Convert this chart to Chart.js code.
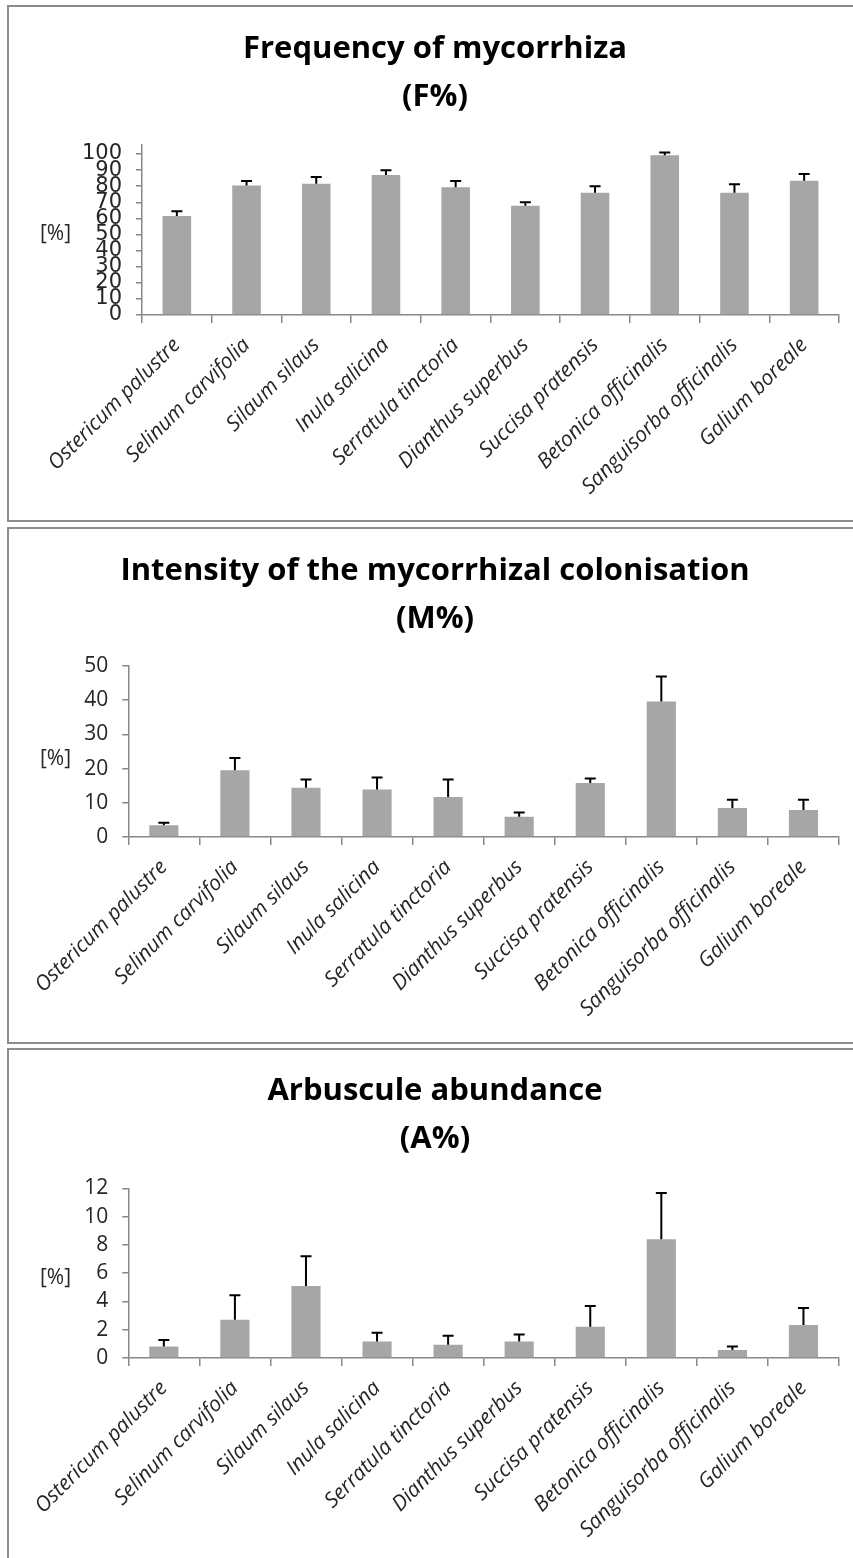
<!DOCTYPE html>
<html>
<head>
<meta charset="utf-8">
<script src="https://cdn.jsdelivr.net/npm/chart.js@4.4.0/dist/chart.umd.min.js"></script>
<style>
  html, body { margin: 0; padding: 0; background: #fff; overflow: hidden; }
  body { width: 853px; height: 1558px; position: relative; }
  .panel { position: absolute; left: 7px; width: 850px; height: 513px; border: 2px solid #8c8c8c; background: #fff; }
  .panel canvas { display: block; }
</style>
</head>
<body>
<div class="panel" style="top:5px"><canvas id="freqChart" width="850" height="513"></canvas></div>
<div class="panel" style="top:527px"><canvas id="intensityChart" width="850" height="513"></canvas></div>
<div class="panel" style="top:1048px"><canvas id="arbChart" width="850" height="513"></canvas></div>
<script>
// Plant species on the x axis (same order in all three panels)
const species = [
    'Ostericum palustre', 'Selinum carvifolia', 'Silaum silaus', 'Inula salicina',
    'Serratula tinctoria', 'Dianthus superbus', 'Succisa pratensis',
    'Betonica officinalis', 'Sanguisorba officinalis', 'Galium boreale'
];

// Frequency of mycorrhiza (F%) - means and upper error
const freqMean = [61.5, 80.5, 81.6, 87.0, 79.3, 67.9, 76.0, 99.2, 76.0, 83.4];
const freqErr  = [2.9, 2.7, 4.1, 2.9, 3.9, 2.1, 4.0, 1.8, 5.2, 4.2];

// Intensity of the mycorrhizal colonisation (M%)
const intensityMean = [3.4, 19.5, 14.4, 13.9, 11.7, 5.9, 15.8, 39.6, 8.5, 7.9];
const intensityErr  = [0.8, 3.6, 2.4, 3.5, 5.1, 1.3, 1.3, 7.3, 2.4, 3.0];

// Arbuscule abundance (A%)
const arbMean = [0.82, 2.7, 5.1, 1.17, 0.94, 1.16, 2.21, 8.39, 0.57, 2.33];
const arbErr  = [0.45, 1.74, 2.1, 0.62, 0.63, 0.51, 1.47, 3.28, 0.24, 1.21];

const axisColor = '#888888';
const textColor = '#262626';

// Draws the upper error bar (line + cap) above every bar
const errorBars = {
    id: 'errorBars',
    afterDatasetsDraw(chart, args, opts) {
        const ctx = chart.ctx;
        const yScale = chart.scales.y;
        const values = chart.data.datasets[0].data;
        ctx.save();
        ctx.strokeStyle = '#000';
        ctx.lineWidth = 2;
        chart.getDatasetMeta(0).data.forEach((bar, i) => {
            const top = yScale.getPixelForValue(values[i] + opts.errors[i]);
            ctx.beginPath();
            ctx.moveTo(bar.x, bar.y);
            ctx.lineTo(bar.x, top);
            ctx.moveTo(bar.x - 5.5, top);
            ctx.lineTo(bar.x + 5.5, top);
            ctx.stroke();
        });
        ctx.restore();
    }
};

// Horizontal "[%]" unit label left of the y axis
const unitLabel = {
    id: 'unitLabel',
    afterDraw(chart, args, opts) {
        const ctx = chart.ctx;
        const area = chart.chartArea;
        ctx.save();
        ctx.font = '21px "Open Sans"';
        ctx.fillStyle = textColor;
        ctx.textAlign = 'left';
        ctx.textBaseline = 'middle';
        ctx.fillText(opts.text, opts.x, (area.top + area.bottom) / 2 + opts.dy);
        ctx.restore();
    }
};

function buildChart(canvasId, titleLines, means, errs, yMax, yStep, yWidth, tickFont, unitDy, titlePad) {
    return new Chart(document.getElementById(canvasId), {
        type: 'bar',
        data: {
            labels: species,
            datasets: [{
                data: means,
                backgroundColor: '#a6a6a6',
                borderWidth: 0,
                categoryPercentage: 1,
                barPercentage: 0.41
            }]
        },
        options: {
            responsive: false,
            animation: false,
            devicePixelRatio: 1,
            layout: { padding: { left: 22, right: 20, top: 0, bottom: 0 } },
            plugins: {
                legend: { display: false },
                tooltip: { enabled: false },
                title: {
                    display: true,
                    text: titleLines,
                    color: '#000',
                    font: { family: 'Open Sans', size: 31, weight: 'bold', lineHeight: 48 / 31 },
                    padding: titlePad
                },
                errorBars: { errors: errs },
                unitLabel: { text: '[%]', x: 31, dy: unitDy }
            },
            scales: {
                x: {
                    grid: { drawOnChartArea: false, offset: true, color: axisColor, lineWidth: 1.5, tickLength: 8 },
                    border: { color: axisColor, width: 1.5 },
                    ticks: {
                        autoSkip: false, minRotation: 45, maxRotation: 45, padding: 10,
                        color: textColor,
                        font: { family: 'Open Sans', size: 21, style: 'italic' }
                    },
                    afterFit(scale) { scale.height = 205; }
                },
                y: {
                    min: 0,
                    max: yMax,
                    grid: { drawOnChartArea: false, color: axisColor, lineWidth: 1.5, tickLength: 6 },
                    border: { color: axisColor, width: 1.5 },
                    ticks: {
                        stepSize: yStep, autoSkip: false, includeBounds: false, padding: 14,
                        color: textColor, font: tickFont
                    },
                    afterFit(scale) { scale.width = yWidth; }
                }
            }
        },
        plugins: [errorBars, unitLabel]
    });
}

Promise.all([
    document.fonts.load('bold 31px "Open Sans"'),
    document.fonts.load('italic 21px "Open Sans"'),
    document.fonts.load('21px "Open Sans"'),
    document.fonts.load('21px "DejaVu Sans"')
]).catch(() => {}).then(() => {
    buildChart('freqChart', ['Frequency of mycorrhiza', '(F%)'], freqMean, freqErr,
        105.6, 10, 111, { family: 'DejaVu Sans', size: 21 }, 4.5, { top: 18, bottom: 24 });
    buildChart('intensityChart', ['Intensity of the mycorrhizal colonisation', '(M%)'], intensityMean, intensityErr,
        50, 10, 97.3, { family: 'Open Sans', size: 21 }, 8, { top: 18, bottom: 23 });
    buildChart('arbChart', ['Arbuscule abundance', '(A%)'], arbMean, arbErr,
        12, 2, 97.3, { family: 'Open Sans', size: 21 }, 5, { top: 17, bottom: 25.3 });
});
</script>
</body>
</html>
